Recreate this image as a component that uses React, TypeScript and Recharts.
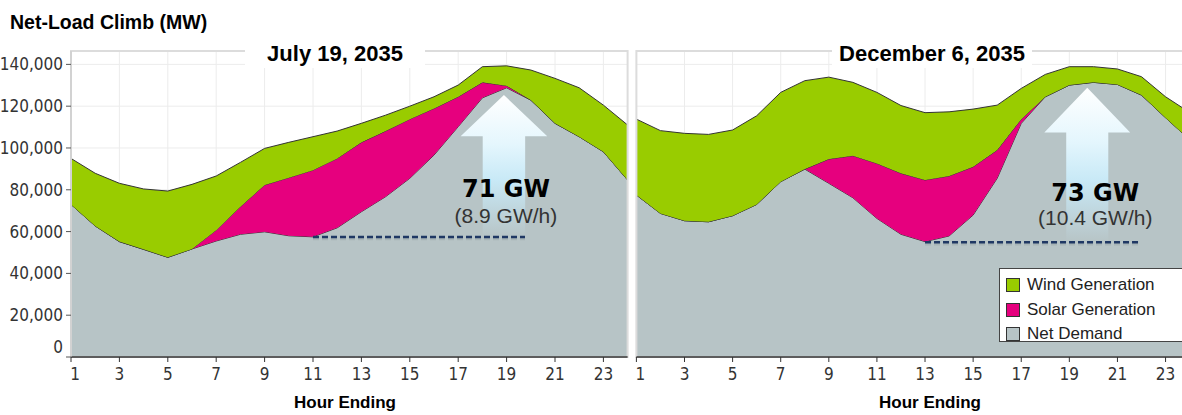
import { Area, AreaChart, CartesianGrid, ReferenceArea, ReferenceLine, XAxis, YAxis } from 'recharts'

const HOURS = [1, 2, 3, 4, 5, 6, 7, 8, 9, 10, 11, 12, 13, 14, 15, 16, 17, 18, 19, 20, 21, 22, 23, 24]

// July 19, 2035 (MW)
const JULY_NET = [73000, 62700, 55200, 51500, 47700, 51700, 55500, 58700, 59900, 58000, 57500, 61800,
  69500, 76700, 85500, 96600, 110200, 124000, 128800, 122900, 111800, 105400, 98200, 84700]
const JULY_SOLAR = [0, 0, 0, 0, 0, 0, 5200, 13200, 22400, 27800, 31900, 33200,
  33200, 31400, 28300, 22300, 14300, 7400, 1000, 0, 0, 0, 0, 0]
const JULY_WIND = [22000, 25200, 27900, 28900, 31700, 30900, 25900, 21200, 17500, 16900, 16000, 13100,
  9100, 7600, 6200, 5600, 5600, 7500, 9500, 14400, 21500, 23400, 22300, 26300]

// December 6, 2035 (MW)
const DEC_NET = [77500, 68700, 65200, 64700, 67600, 73000, 83900, 89900, 83100, 76200, 66300, 58700,
  55200, 57900, 67900, 85500, 111800, 124500, 130100, 131400, 130400, 125300, 114500, 104000]
const DEC_SOLAR = [0, 0, 0, 0, 0, 0, 0, 0, 11600, 20100, 26300, 29200,
  29500, 28700, 23100, 13500, 2000, 0, 0, 0, 0, 0, 0, 0]
const DEC_WIND = [36300, 39600, 41800, 41800, 41000, 42400, 42700, 42300, 39200, 35100, 34000, 32400,
  32200, 30700, 27600, 21500, 14700, 10700, 8800, 7500, 7400, 8800, 10000, 13000]

const Y_TICKS = [0, 20000, 40000, 60000, 80000, 100000, 120000, 140000]
const X_TICKS = [1, 3, 5, 7, 9, 11, 13, 15, 17, 19, 21, 23]

const SERIES = [
  { key: 'wind', name: 'Wind Generation', color: '#99cc00' },
  { key: 'solar', name: 'Solar Generation', color: '#e6007e' },
  { key: 'net', name: 'Net Demand', color: '#b7c4c6' },
]

// ramp annotations: dashed base line, arrow extent and labels
const JULY_RAMP = { lineFrom: 11, lineTo: 19.76, base: 57400, x1: 17.1, x2: 20.68, tip: 125300, big: '71 GW', small: '(8.9 GW/h)' }
const DEC_RAMP = { lineFrom: 13, lineTo: 21.94, base: 54900, x1: 17.96, x2: 21.53, tip: 128800, big: '73 GW', small: '(10.4 GW/h)' }

const julyData = HOURS.map((h, i) => ({ hour: h, net: JULY_NET[i], solar: JULY_SOLAR[i], wind: JULY_WIND[i] }))
const decData = HOURS.map((h, i) => ({ hour: h, net: DEC_NET[i], solar: DEC_SOLAR[i], wind: DEC_WIND[i] }))

const SANS = "'Liberation Sans', Arial, sans-serif"
const NARROW = "'Liberation Sans Narrow', 'Arial Narrow', 'DejaVu Sans Condensed', sans-serif"
const Y_MAX = 146400

function YTick(props: any) {
  const { x, y, payload } = props
  const v = payload.value as number
  return (
    <text x={x} y={v === 0 ? y - 10 : y} dy="0.355em" textAnchor="end" fill="#333"
      style={{ fontFamily: NARROW, fontSize: 17 }}>
      {v.toLocaleString('en-US')}
    </text>
  )
}

function XTick(props: any) {
  const { x, y, payload } = props
  return (
    <text x={payload.value === 1 ? x + 4 : x} y={y} dy="0.71em" textAnchor="middle" fill="#333"
      style={{ fontFamily: NARROW, fontSize: 17 }}>
      {payload.value}
    </text>
  )
}

function makeArrow(id: string, big: string, small: string, dx: number, bigY: number, smallY: number) {
  return (p: any) => {
    const { x, y, width: w, height: h } = p
    const cx = x + w / 2
    const hy = y + h * 0.29
    const sw = w * 0.49
    const pts = [
      [cx, y], [x + w, hy], [cx + sw / 2, hy], [cx + sw / 2, y + h],
      [cx - sw / 2, y + h], [cx - sw / 2, hy], [x, hy],
    ].map(q => q.join(',')).join(' ')
    return (
      <g>
        <defs>
          <linearGradient id={id} x1="0" y1="0" x2="0" y2="1">
            <stop offset="0%" stopColor="#ffffff" stopOpacity={1} />
            <stop offset="35%" stopColor="#e4f6fd" stopOpacity={1} />
            <stop offset="60%" stopColor="#c9ebf9" stopOpacity={0.95} />
            <stop offset="100%" stopColor="#c9ebf9" stopOpacity={0} />
          </linearGradient>
        </defs>
        <polygon points={pts} fill={`url(#${id})`} />
        <text x={cx + dx} y={y + bigY} textAnchor="middle" fill="#000"
          style={{ fontFamily: "'DejaVu Sans', sans-serif", fontWeight: 900, fontSize: 24 }}>{big}</text>
        <text x={cx + dx} y={y + smallY} textAnchor="middle" fill="#333"
          style={{ fontFamily: SANS, fontSize: 21 }}>{small}</text>
      </g>
    )
  }
}

interface PanelProps {
  data: any[]
  ramp: typeof JULY_RAMP
  width: number
  left: number
  showY: boolean
  arrow: (p: any) => any
}

function Panel({ data, ramp, width, left, showY, arrow }: PanelProps) {
  return (
    <AreaChart width={width} height={415} data={data}
      margin={{ top: 51, right: 4.4, left, bottom: 28 }}>
      <CartesianGrid stroke="#ececec" strokeWidth={1} />
      <XAxis dataKey="hour" type="number" domain={[1, 24]} ticks={X_TICKS} interval={0}
        allowDataOverflow tick={<XTick />} tickSize={5} tickMargin={6} height={30}
        axisLine={{ stroke: '#333', strokeWidth: 1.5 }} tickLine={{ stroke: '#333' }} />
      <YAxis type="number" domain={[0, Y_MAX]} ticks={Y_TICKS} interval={0} allowDataOverflow
        hide={!showY} width={71} tick={<YTick />} tickSize={5} tickMargin={3}
        axisLine={{ stroke: '#c8c8c8' }} tickLine={{ stroke: '#555' }} />
      <Area type="linear" dataKey="net" stackId="s" name="Net Demand" fill="#b7c4c6" fillOpacity={1}
        stroke="#333" strokeWidth={1} isAnimationActive={false} />
      <Area type="linear" dataKey="solar" stackId="s" name="Solar Generation" fill="#e6007e" fillOpacity={1}
        stroke="#333" strokeWidth={1} isAnimationActive={false} />
      <Area type="linear" dataKey="wind" stackId="s" name="Wind Generation" fill="#99cc00" fillOpacity={1}
        stroke="#333" strokeWidth={1} isAnimationActive={false} />
      <ReferenceArea x1={1} x2={24} y1={0} y2={Y_MAX} fill="none" stroke="#dcdcdc" strokeWidth={2}
        ifOverflow="visible" />
      <ReferenceArea x1={ramp.x1} x2={ramp.x2} y1={ramp.base} y2={ramp.tip} shape={arrow} ifOverflow="visible" />
      <ReferenceLine segment={[{ x: ramp.lineFrom, y: ramp.base - 900 }, { x: ramp.lineTo, y: ramp.base - 900 }]}
        stroke="#9aa5a8" strokeWidth={2.5} strokeDasharray="6 3" strokeOpacity={0.5} ifOverflow="visible" />
      <ReferenceLine segment={[{ x: ramp.lineFrom, y: ramp.base }, { x: ramp.lineTo, y: ramp.base }]}
        stroke="#1f3864" strokeWidth={2.5} strokeDasharray="6 3" ifOverflow="visible" />
    </AreaChart>
  )
}

const julyArrow = makeArrow('arrJul', JULY_RAMP.big, JULY_RAMP.small, 2, 101.7, 128.3)
const decArrow = makeArrow('arrDec', DEC_RAMP.big, DEC_RAMP.small, 8, 113, 137.3)

const titleBox = (left: number, width: number, text: string) => (
  <div style={{
    position: 'absolute', left, top: 40, width, height: 28, background: '#fff', textAlign: 'center',
    fontFamily: SANS, fontWeight: 'bold', fontSize: 22, lineHeight: '28px', color: '#000',
  }}>{text}</div>
)

const axisTitle = (center: number, text: string) => (
  <div style={{
    position: 'absolute', left: center - 80, top: 393, width: 160, textAlign: 'center',
    fontFamily: SANS, fontWeight: 'bold', fontSize: 17, lineHeight: '20px', color: '#000',
  }}>{text}</div>
)

export default function App() {
  return (
    <div style={{ position: 'absolute', left: 0, top: 0, width: 1182, height: 415, overflow: 'hidden', background: '#fff' }}>
      <div style={{ position: 'absolute', left: 0, top: 0 }}>
        <Panel data={julyData} ramp={JULY_RAMP} width={632} left={0} showY arrow={julyArrow} />
      </div>
      <div style={{ position: 'absolute', left: 626, top: 0 }}>
        <Panel data={decData} ramp={DEC_RAMP} width={568} left={10.4} showY={false} arrow={decArrow} />
      </div>
      <div style={{
        position: 'absolute', left: 10, top: 11, fontFamily: SANS, fontWeight: 'bold', fontSize: 19.5,
        lineHeight: '22px', color: '#000',
      }}>Net-Load Climb (MW)</div>
      {titleBox(245, 180, 'July 19, 2035')}
      {titleBox(832, 200, 'December 6, 2035')}
      {axisTitle(345, 'Hour Ending')}
      {axisTitle(930, 'Hour Ending')}
      <div style={{
        position: 'absolute', left: 999, top: 268, width: 190, height: 74, background: '#fff',
        border: '1px solid #444', boxSizing: 'border-box', padding: '4px 0 0 6px',
      }}>
        {SERIES.map(s => (
          <div key={s.key} style={{ display: 'flex', alignItems: 'center', height: 24.5 }}>
            <span style={{ width: 12, height: 12, background: s.color, border: '1px solid #333', marginRight: 7 }} />
            <span style={{ fontFamily: SANS, fontSize: 17, color: '#222' }}>{s.name}</span>
          </div>
        ))}
      </div>
    </div>
  )
}
